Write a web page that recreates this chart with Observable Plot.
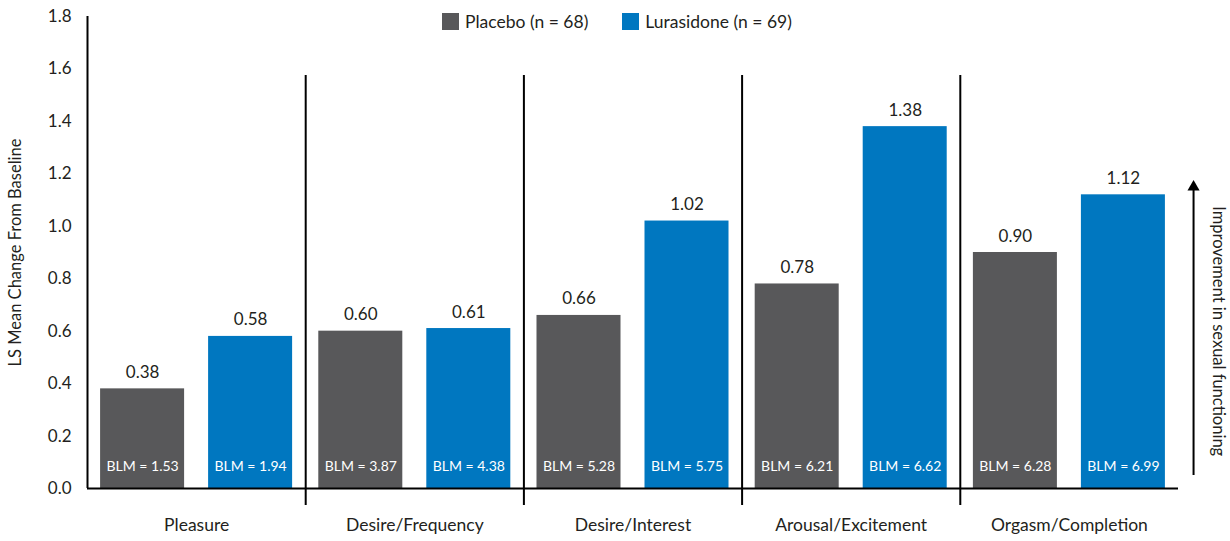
<!DOCTYPE html>
<html>
<head>
<meta charset="utf-8">
<script src="https://cdn.jsdelivr.net/npm/d3@7"></script>
<script src="https://cdn.jsdelivr.net/npm/@observablehq/plot@0.6"></script>
<style>
  html, body { margin: 0; padding: 0; background: #fff; }
  #wrap { position: relative; width: 1230px; height: 541px; font-family: Lato, "Noto Sans", sans-serif; color: #231f20; }
  #legend { position: absolute; top: 11px; left: 442px; display: flex; align-items: center; font-size: 17.5px; }
  .item { display: flex; align-items: center; margin-right: 34px; }
  .sw { width: 17px; height: 17px; margin-right: 6px; }
</style>
</head>
<body>
<div id="wrap"></div>
<script>
const categories = ["Pleasure", "Desire/Frequency", "Desire/Interest", "Arousal/Excitement", "Orgasm/Completion"];
const groups = ["Placebo", "Lurasidone"];
const legendLabels = ["Placebo (n = 68)", "Lurasidone (n = 69)"];
const placeboValues = [0.38, 0.60, 0.66, 0.78, 0.90];
const lurasidoneValues = [0.58, 0.61, 1.02, 1.38, 1.12];
const placeboBLM = [1.53, 3.87, 5.28, 6.21, 6.28];
const lurasidoneBLM = [1.94, 4.38, 5.75, 6.62, 6.99];
const yTicks = [0, 0.2, 0.4, 0.6, 0.8, 1.0, 1.2, 1.4, 1.6, 1.8];
const colors = ["#58585a", "#0077c0"];
const yLabel = "LS Mean Change From Baseline";
const sideLabel = "Improvement in sexual functioning";

// within-category slot layout (fractions of a category slot)
const slots = [[0.06, 0.445], [0.555, 0.94]];

const rows = [];
categories.forEach((c, i) => {
  [placeboValues, lurasidoneValues].forEach((vals, g) => {
    rows.push({
      category: c, i, group: groups[g],
      value: vals[i],
      blm: (g === 0 ? placeboBLM : lurasidoneBLM)[i],
      x1: i + slots[g][0], x2: i + slots[g][1]
    });
  });
});

const n = categories.length;
const chart = Plot.plot({
  width: 1230,
  height: 541,
  marginTop: 16,
  marginBottom: 53,
  marginLeft: 87,
  marginRight: 52,
  style: { fontFamily: "Lato, 'Noto Sans', sans-serif", fontSize: "16px", color: "#231f20", background: "transparent", overflow: "visible" },
  x: { type: "linear", domain: [0, n], axis: null },
  y: { domain: [0, 1.8], axis: null },
  color: { domain: groups, range: colors },
  marks: [
    Plot.rectY(rows, { x1: "x1", x2: "x2", y1: 0, y2: "value", fill: "group" }),
    Plot.text(rows, { x: d => (d.x1 + d.x2) / 2, y: "value", text: d => d.value.toFixed(2), lineAnchor: "bottom", dy: -11, fontSize: 17, fill: "#231f20" }),
    Plot.text(rows, { x: d => (d.x1 + d.x2) / 2, y: () => 0, text: d => `BLM = ${d.blm.toFixed(2)}`, lineAnchor: "middle", dy: -22, fontSize: 14, fill: "white" }),
    Plot.ruleX(d3.range(1, n), { stroke: "black", strokeWidth: 2, insetTop: 59, insetBottom: -17 }),
    Plot.ruleY([0], { stroke: "black", strokeWidth: 2 }),
    Plot.ruleX([0], { stroke: "black", strokeWidth: 2 }),
    Plot.axisY({ ticks: yTicks, tickFormat: d => d.toFixed(1), tickSize: 0, tickPadding: 16, fontSize: 17, label: null }),
    Plot.axisX({ ticks: categories.map((c, i) => i + 0.5), tickFormat: d => categories[Math.floor(d)], tickSize: 0, tickPadding: 30, fontSize: 17.5, label: null }),
    Plot.text([yLabel], { x: () => -0.33, y: () => 0.9, rotate: -90, fontSize: 16.5, fill: "#231f20" }),
    Plot.ruleX([n + 0.069], { y1: 0.05, y2: 1.14, stroke: "black", strokeWidth: 2 }),
    Plot.dot([n + 0.069], { x: d => d, y: () => 1.15, symbol: "triangle", r: 4.5, fill: "black", stroke: null }),
    Plot.text([sideLabel], { x: () => n + 0.183, y: () => 0.6, rotate: 90, fontSize: 16.5, fill: "#231f20" })
  ]
});

const wrap = document.getElementById("wrap");
wrap.appendChild(chart);
const legend = document.createElement("div");
legend.id = "legend";
legendLabels.forEach((l, i) => {
  const it = document.createElement("div");
  it.className = "item";
  const sw = document.createElement("span");
  sw.className = "sw";
  sw.style.background = colors[i];
  const t = document.createElement("span");
  t.textContent = l;
  it.appendChild(sw); it.appendChild(t);
  legend.appendChild(it);
});
wrap.appendChild(legend);
</script>
</body>
</html>
